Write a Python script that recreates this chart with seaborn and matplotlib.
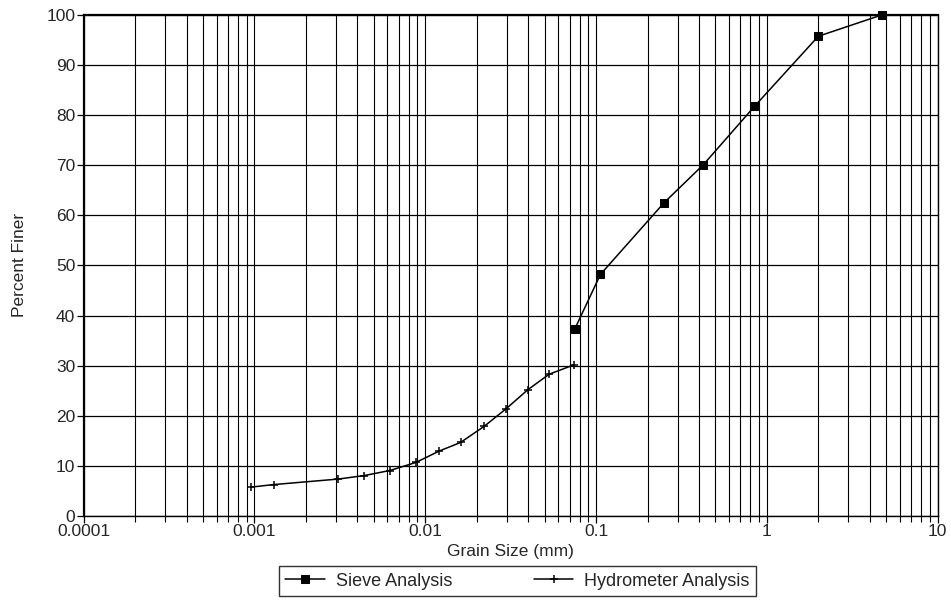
import numpy as np
import pandas as pd
import matplotlib
matplotlib.use("Agg")
import matplotlib.pyplot as plt
import seaborn as sns
from matplotlib.ticker import LogLocator, FixedLocator, FixedFormatter, NullFormatter

# sieve analysis (grain size mm, percent finer)
sieve_size = [4.75, 2.0, 0.85, 0.425, 0.25, 0.106, 0.075]
sieve_finer = [100.0, 95.7, 81.8, 70.1, 62.5, 48.2, 37.3]

# hydrometer analysis
hydro_size = [0.00096, 0.0013, 0.0031, 0.0044, 0.0062, 0.0088, 0.0121,
              0.0161, 0.0221, 0.0297, 0.0398, 0.0531, 0.0745]
hydro_finer = [5.8, 6.3, 7.4, 8.1, 9.1, 10.7, 13.0,
               14.7, 17.9, 21.4, 25.2, 28.3, 30.2]

x_ticks = [0.0001, 0.001, 0.01, 0.1, 1, 10]
x_tick_labels = ["0.0001", "0.001", "0.01", "0.1", "1", "10"]
y_ticks = [0, 10, 20, 30, 40, 50, 60, 70, 80, 90, 100]

sns.set_style("white")
plt.rcParams['font.family'] = ['Liberation Sans', 'DejaVu Sans']

fig = plt.figure(figsize=(9.51, 6.13), dpi=100)
ax = fig.add_axes([0.088, 0.158, 0.898, 0.818])

sieve = pd.DataFrame({"size": sieve_size, "finer": sieve_finer})
hydro = pd.DataFrame({"size": hydro_size, "finer": hydro_finer})

sns.lineplot(data=sieve, x="size", y="finer", sort=False, estimator=None,
             color="black", lw=1.1, marker="s", markersize=5.5,
             markeredgecolor="black", markerfacecolor="black",
             label="Sieve Analysis", ax=ax, clip_on=False, zorder=5)
sns.lineplot(data=hydro, x="size", y="finer", sort=False, estimator=None,
             color="black", lw=1.1, marker="+", markersize=6, mew=1.1,
             markeredgecolor="black",
             label="Hydrometer Analysis", ax=ax, zorder=5)

ax.set_xscale("log")
ax.set_xlim(0.0001, 10)
ax.set_ylim(0, 100)

ax.xaxis.set_major_locator(FixedLocator(x_ticks))
ax.xaxis.set_major_formatter(FixedFormatter(x_tick_labels))
ax.xaxis.set_minor_locator(LogLocator(base=10, subs=np.arange(2, 10), numticks=20))
ax.xaxis.set_minor_formatter(NullFormatter())
ax.set_yticks(y_ticks)

ax.grid(True, which="both", axis="x", color="black", lw=0.8)
ax.grid(True, which="major", axis="y", color="black", lw=0.9)
ax.set_axisbelow(True)

ax.tick_params(axis="both", which="major", direction="out", length=5,
               width=0.9, color="black", labelsize=12.5, pad=1, bottom=True, left=True)
ax.tick_params(axis="x", which="minor", direction="out", length=4,
               width=0.8, color="black", bottom=True)

for side in ["left", "top", "right", "bottom"]:
    ax.spines[side].set_visible(True)
    ax.spines[side].set_color("black")
ax.spines["left"].set_linewidth(1.6)
ax.spines["top"].set_linewidth(1.6)
ax.spines["right"].set_linewidth(1.0)
ax.spines["bottom"].set_linewidth(1.0)

ax.set_xlabel("Grain Size (mm)", fontsize=12.5, labelpad=3)
ax.set_ylabel("Percent Finer", fontsize=12.5, labelpad=14)

leg = ax.legend(loc="upper center", bbox_to_anchor=(0.508, -0.1), ncol=2,
                frameon=True, fancybox=False, fontsize=13, edgecolor="black",
                handlelength=2.2, columnspacing=4.5, borderpad=0.35,
                handletextpad=0.6, borderaxespad=0)
leg.get_frame().set_linewidth(1.0)

fig.savefig("out.png", dpi=100)
